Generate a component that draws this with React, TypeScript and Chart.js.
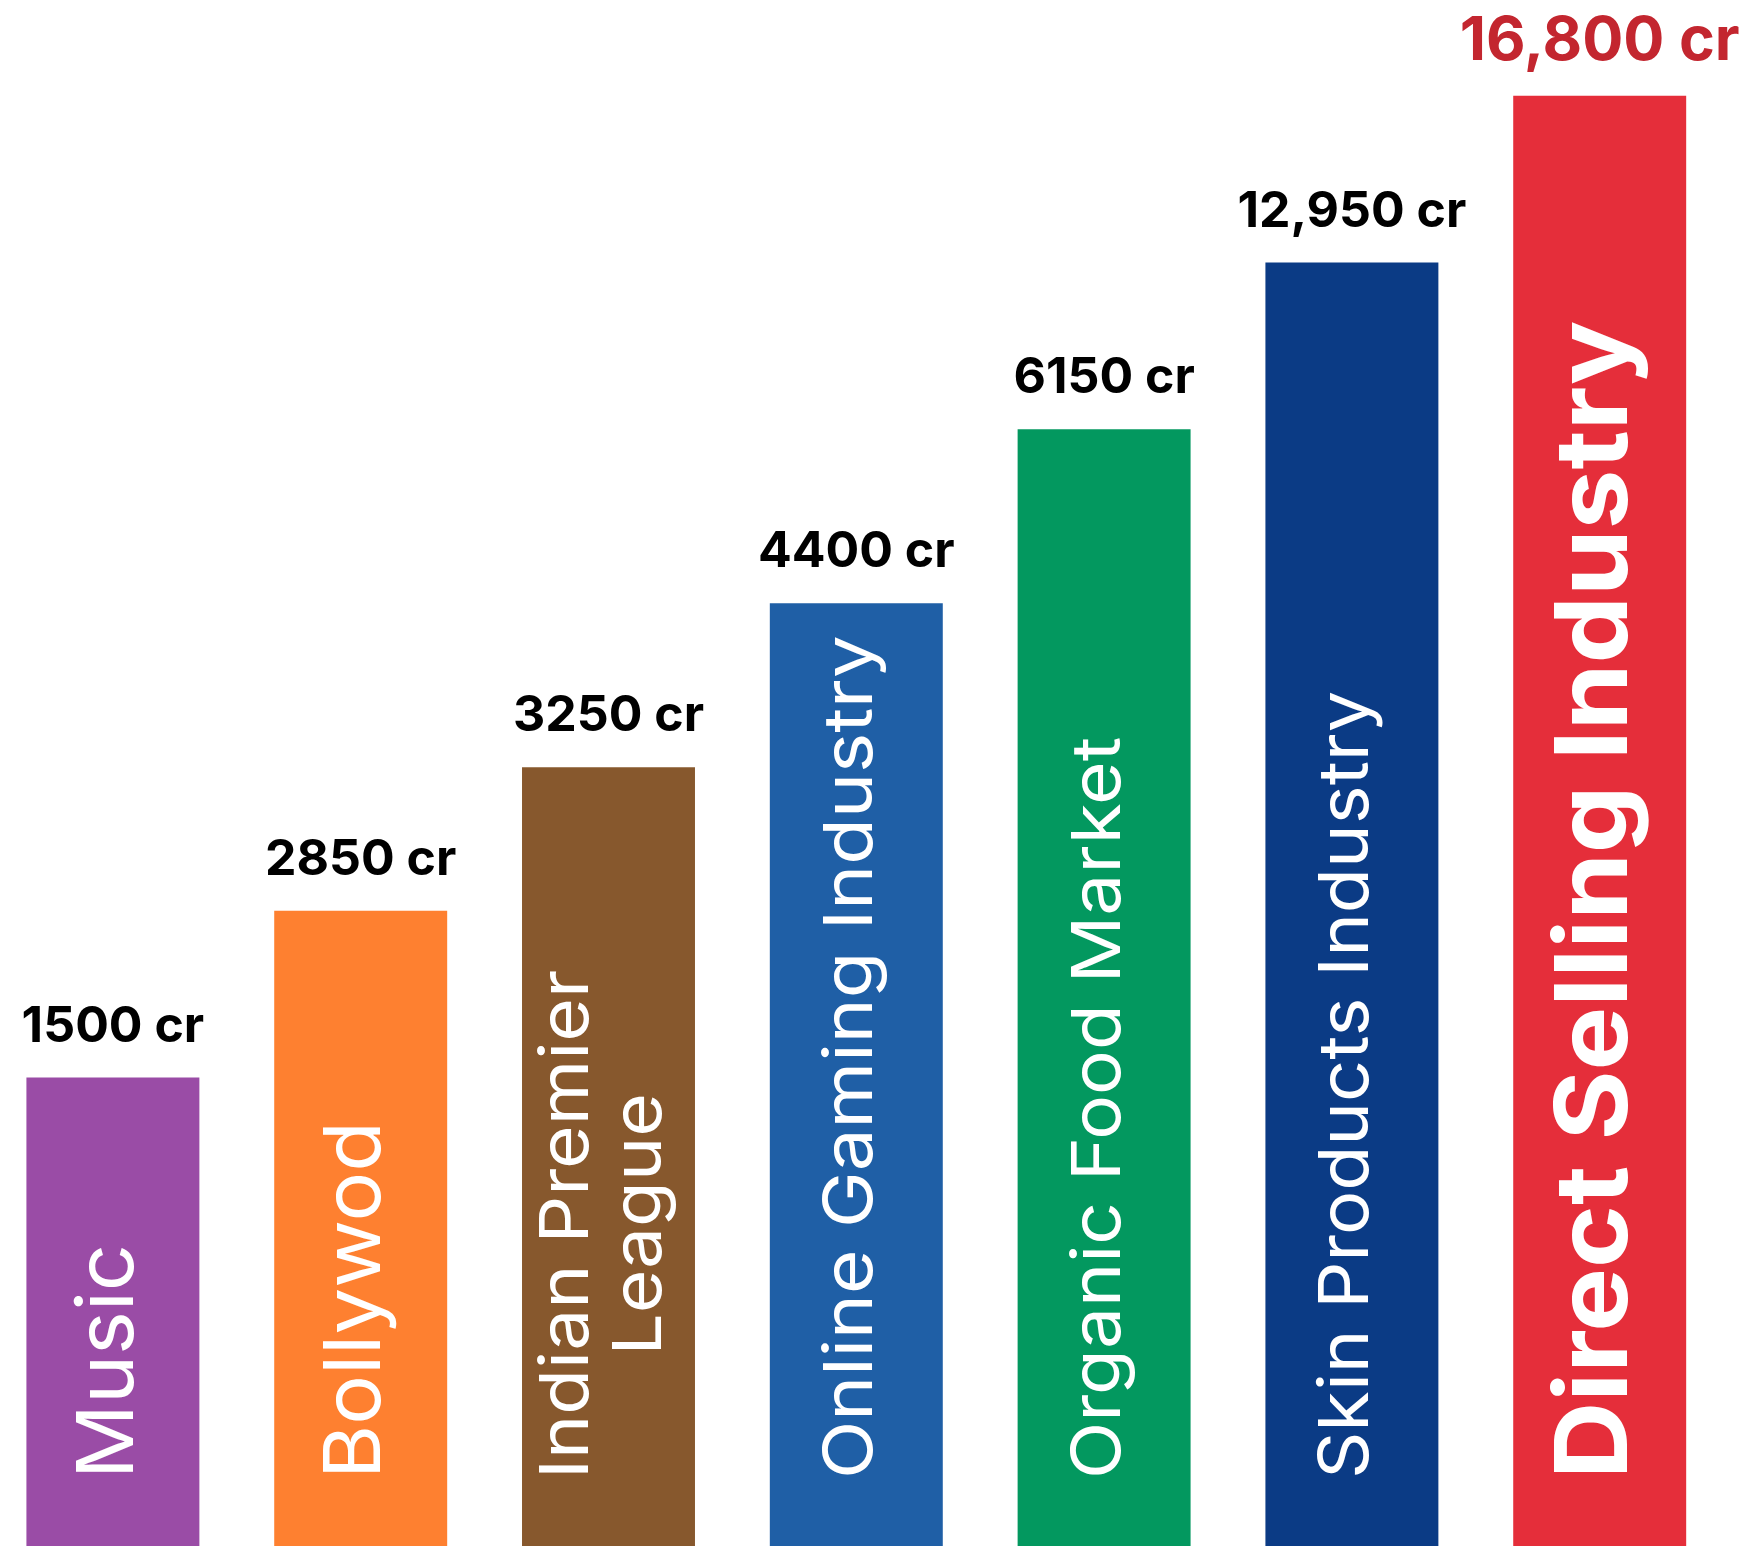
import React, { useEffect, useRef } from "react";
import { Chart, registerables } from "chart.js";

Chart.register(...registerables);

// ---- data ----
const categories: string[][] = [
  ["Music"],
  ["Bollywod"],
  ["Indian Premier", "League"],
  ["Online Gaming Industry"],
  ["Organic Food Market"],
  ["Skin Products Industry"],
  ["Direct Selling Industry"],
];
const marketSizeCr = [1500, 2850, 3250, 4400, 6150, 12950, 16800];
const valueLabels = ["1500 cr", "2850 cr", "3250 cr", "4400 cr", "6150 cr", "12,950 cr", "16,800 cr"];
// bar heights as drawn in the infographic (tallest = 100)
const barHeights = [32.3, 43.8, 53.7, 65.0, 77.0, 88.5, 100];

// ---- styles ----
const barColors = ["#9a4ca6", "#fe8030", "#87582d", "#1f5fa6", "#03985f", "#0b3b85", "#e52e3a"];
const catFontSize = [79, 79, 68, 68, 68, 69, 100];
const catFontWeight = [400, 400, 400, 400, 400, 400, 700];
const catStretch = [1.05, 1.05, 1.1, 1.12, 1.1, 1.07, 1.07];
const HIGHLIGHT = 6;
const FONT = "Inter, 'Open Sans', sans-serif";

const labelPlugin = {
  id: "barLabels",
  afterDatasetsDraw(chart: any) {
    const ctx: CanvasRenderingContext2D = chart.ctx;
    const meta = chart.getDatasetMeta(0);
    const bottom = chart.chartArea.bottom;
    meta.data.forEach((bar: any, i: number) => {
      const { x, y } = bar.getProps(["x", "y"], true);
      // value label above bar
      ctx.save();
      const hl = i === HIGHLIGHT;
      ctx.font = `700 ${hl ? 61 : 50}px ${FONT}`;
      ctx.fillStyle = hl ? "#c3262f" : "#000000";
      ctx.textAlign = "center";
      ctx.textBaseline = "alphabetic";
      ctx.fillText(valueLabels[i], x, y - 36);
      ctx.restore();

      // rotated category label inside bar
      const size = catFontSize[i];
      const lines = categories[i];
      ctx.save();
      ctx.font = `${catFontWeight[i]} ${size}px ${FONT}`;
      ctx.fillStyle = "#ffffff";
      ctx.textBaseline = "alphabetic";
      ctx.translate(x, bottom - 67);
      ctx.rotate(-Math.PI / 2);
      ctx.scale(catStretch[i], 1);
      const capH = size * 0.727;
      const lineH = size * 1.07;
      const blockCenter = -9;
      const maxW = Math.max(...lines.map((l) => ctx.measureText(l).width));
      lines.forEach((line, j) => {
        const capCenter = blockCenter + (j - (lines.length - 1) / 2) * lineH;
        const baseline = capCenter + capH / 2;
        if (lines.length > 1) {
          ctx.textAlign = "center";
          ctx.fillText(line, maxW / 2, baseline);
        } else {
          ctx.textAlign = "left";
          ctx.fillText(line, 0, baseline);
        }
      });
      ctx.restore();
    });
  },
};

export default function App() {
  const ref = useRef<HTMLCanvasElement>(null);
  useEffect(() => {
    if (!ref.current) return;
    const chart = new Chart(ref.current, {
      type: "bar",
      data: {
        labels: categories.map((c) => c.join(" ")),
        datasets: [
          {
            label: "Market size (cr)",
            data: barHeights,
            backgroundColor: barColors,
            borderWidth: 0,
            categoryPercentage: 1,
            barPercentage: 0.698,
          },
        ],
      },
      options: {
        animation: false,
        responsive: true,
        maintainAspectRatio: false,
        layout: { padding: { left: 0, right: 21.8, top: 0, bottom: 0 } },
        plugins: {
          legend: { display: false },
          tooltip: { enabled: false },
        },
        scales: {
          x: { display: false, grid: { display: false } },
          y: { display: false, min: 0, max: 106.6, grid: { display: false } },
        },
      },
      plugins: [labelPlugin],
    });
    return () => chart.destroy();
  }, []);
  return (
    <div
      style={{
        position: "fixed",
        left: -11.4,
        top: 0,
        width: 1756.4,
        height: 1546,
        background: "#ffffff",
      }}
    >
      <canvas ref={ref} style={{ display: "block" }} data-values={marketSizeCr.join(",")} />
    </div>
  );
}
